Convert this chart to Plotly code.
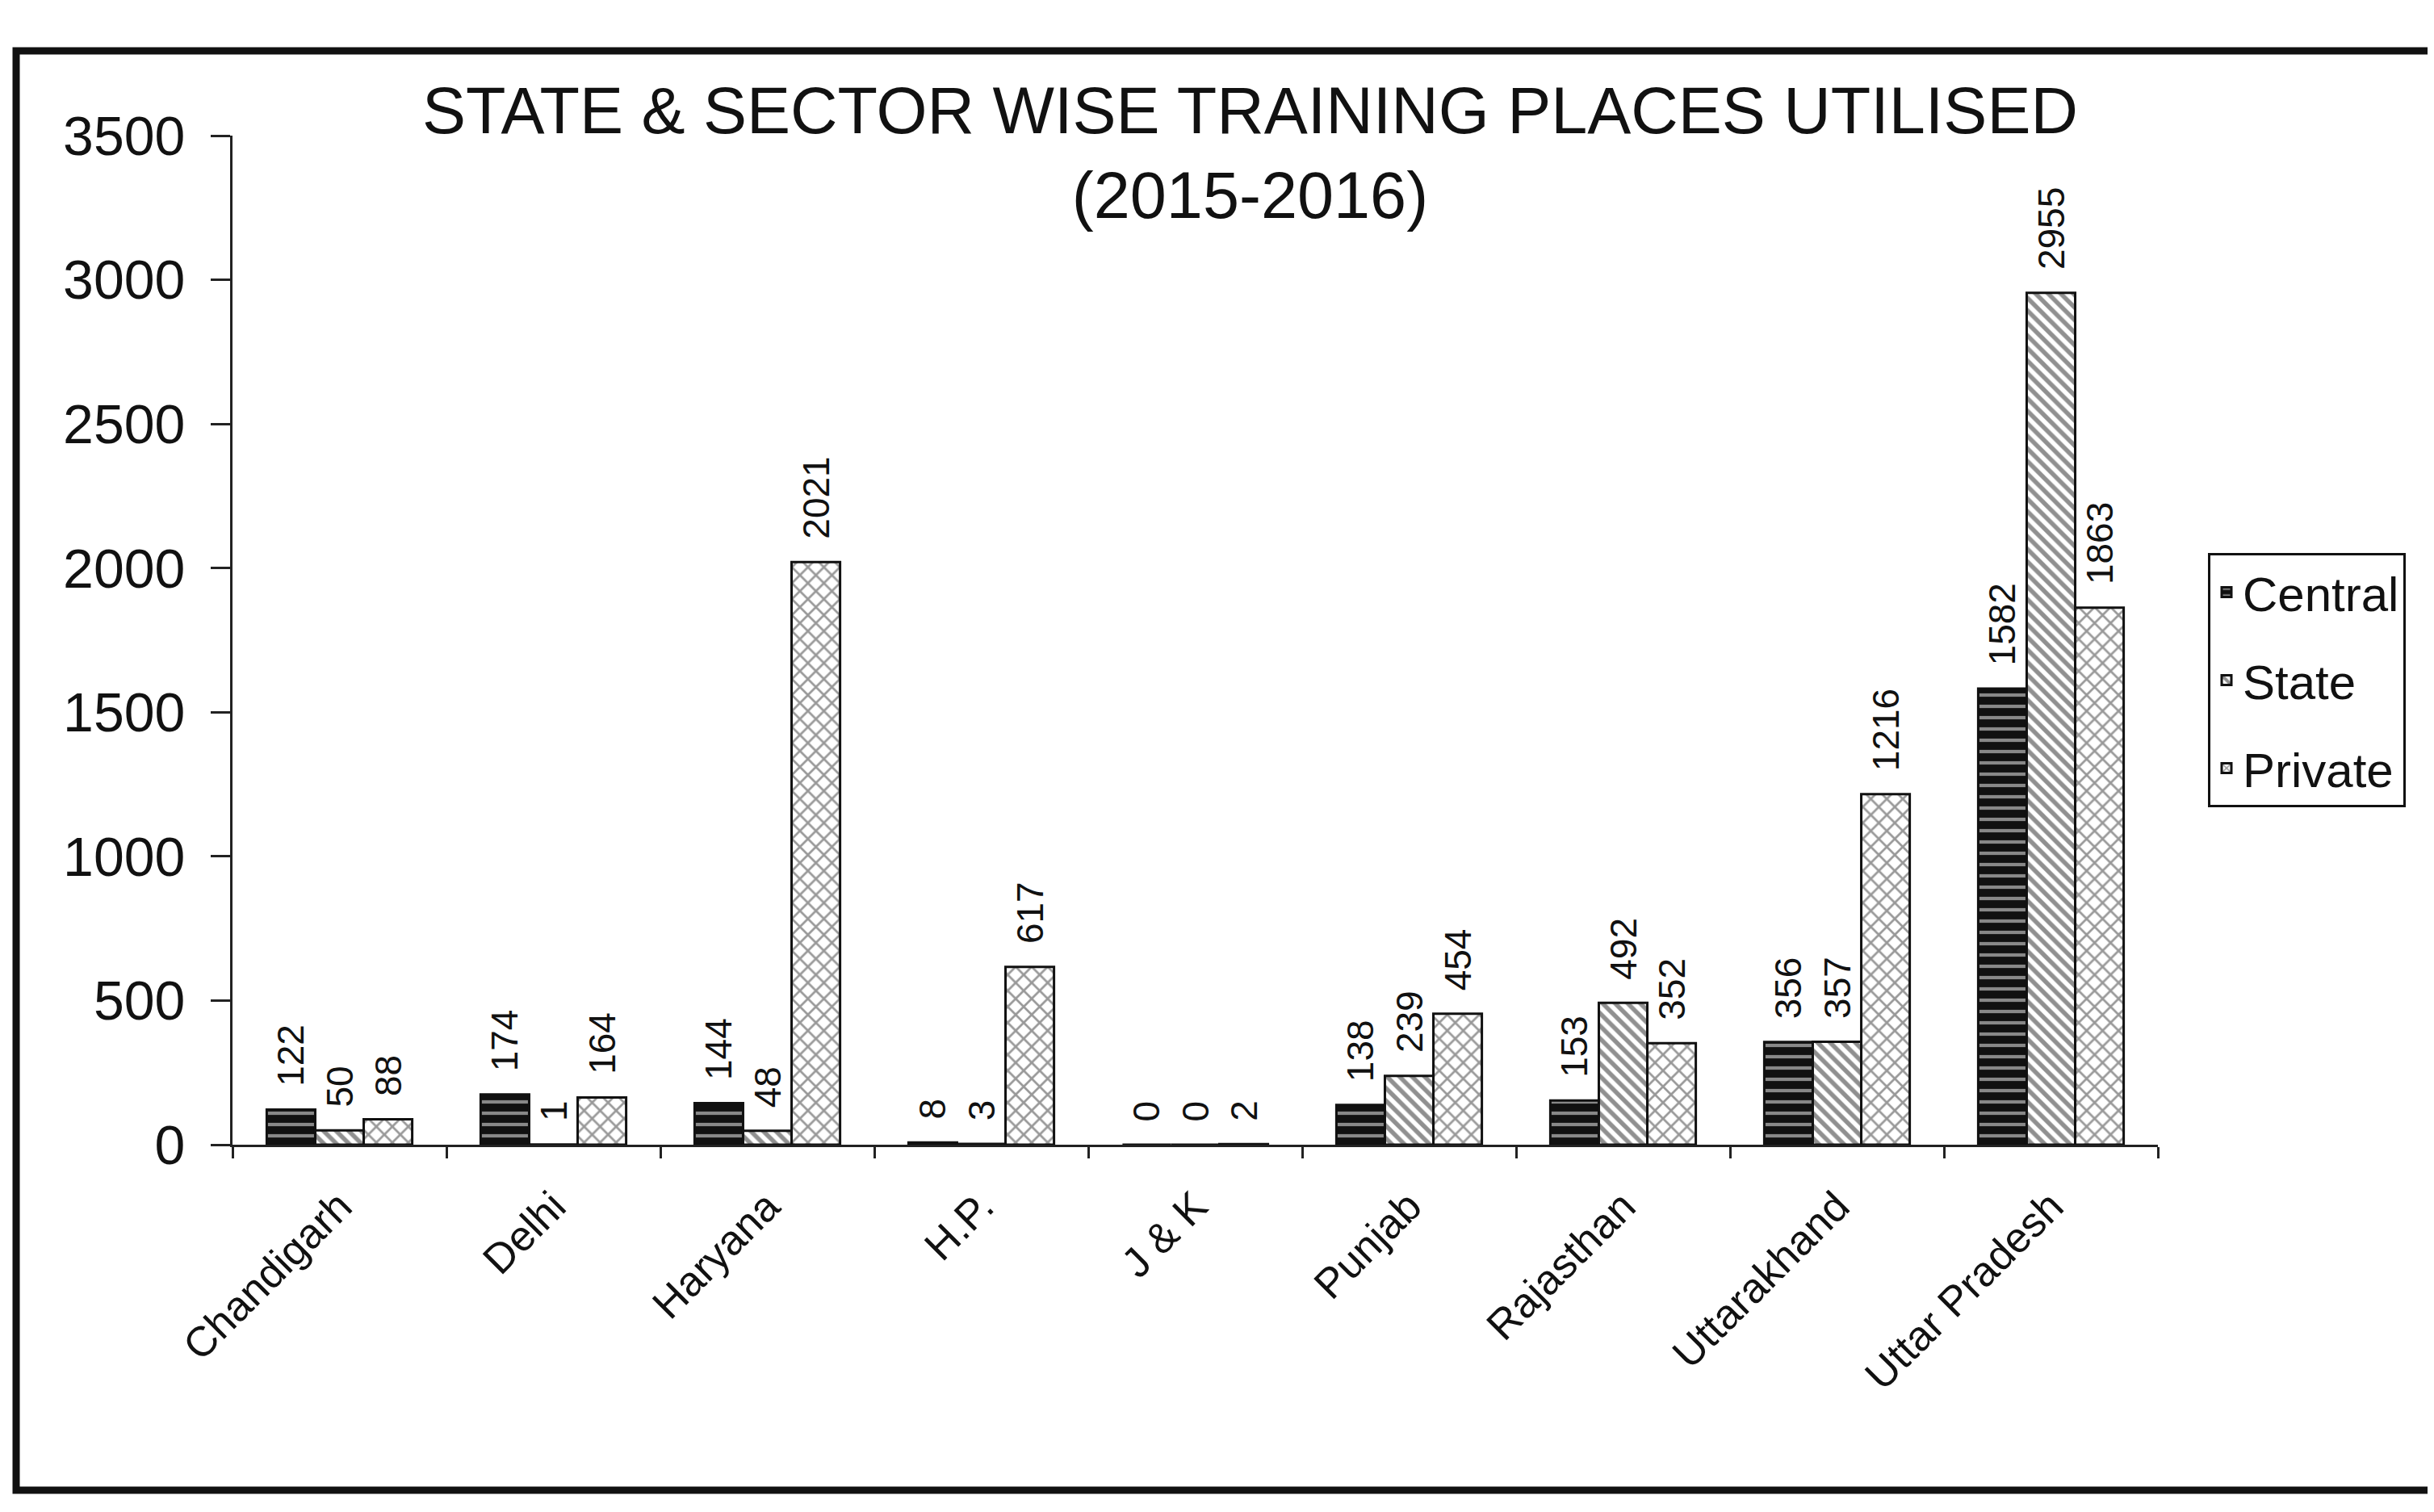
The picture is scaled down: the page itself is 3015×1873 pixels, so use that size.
import plotly.graph_objects as go

states = ["Chandigarh", "Delhi", "Haryana", "H.P.", "J & K", "Punjab", "Rajasthan", "Uttarakhand", "Uttar Pradesh"]
central = [122, 174, 144, 8, 0, 138, 153, 356, 1582]
state = [50, 1, 48, 3, 0, 239, 492, 357, 2955]
private = [88, 164, 2021, 617, 2, 454, 352, 1216, 1863]
y_ticks = [0, 500, 1000, 1500, 2000, 2500, 3000, 3500]

FONT = "Liberation Sans, Arial, sans-serif"

series = [
    ("Central", central, dict(shape="-", bgcolor="#111111", fgcolor="#ffffff", size=14, solidity=0.3)),
    ("State", state, dict(shape="\\", bgcolor="#ffffff", fgcolor="#222222", size=11, solidity=0.5)),
    ("Private", private, dict(shape="x", bgcolor="#ffffff", fgcolor="#333333", size=14, solidity=0.35)),
]

L, R, T, B = 280, 350, 160, 463
PW = 3015 - L - R
PH = 1873 - T - B

fig = go.Figure()
for i, (name, vals, pat) in enumerate(series):
    fig.add_trace(go.Bar(
        name=name, x=states, y=vals,
        text=["\u00a0\u00a0" + str(v) for v in vals], textposition="outside", textangle=-90,
        textfont=dict(family=FONT, size=46, color="#111111"),
        constraintext="none",
        cliponaxis=False,
        legendgroup=name,
        marker=dict(color="#ffffff", line=dict(color="#111111", width=3), pattern=pat),
    ))

fig.update_layout(
    width=3015, height=1873,
    paper_bgcolor="white", plot_bgcolor="white",
    margin=dict(l=L, r=R, t=T, b=B),
    barmode="group", bargap=0.32, bargroupgap=0,
    font=dict(family=FONT, color="#111111"),
    showlegend=True,
    legend=dict(x=(2727 - L) / PW, y=(T + PH - 677) / PH, xanchor="left", yanchor="top",
                bordercolor="#111111", borderwidth=3, bgcolor="white",
                font=dict(family=FONT, size=60, color="#111111"),
                tracegroupgap=28, traceorder="grouped"),
    xaxis=dict(showline=True, linecolor="#222222", linewidth=3,
               ticks="outside", tickson="boundaries", ticklen=14, tickcolor="#222222", tickwidth=3,
               tickangle=-45, tickfont=dict(family=FONT, size=52, color="#111111"),
               ticklabelstandoff=22, showgrid=False),
    yaxis=dict(range=[0, 3500], tickvals=y_ticks, showline=True, linecolor="#222222", linewidth=3,
               ticks="outside", ticklen=24, tickcolor="#222222", tickwidth=3,
               tickfont=dict(family=FONT, size=68, color="#111111"),
               ticklabelstandoff=18, showgrid=False, zeroline=False),
    annotations=[dict(text="STATE & SECTOR WISE TRAINING PLACES UTILISED<br>(2015-2016)",
                      xref="paper", yref="paper", x=(1540 - L) / PW, y=(T + PH - 182) / PH,
                      xanchor="center", yanchor="middle",
                      showarrow=False, font=dict(family=FONT, size=81, color="#111111"))],
    shapes=[dict(type="rect", xref="paper", yref="paper",
                 x0=(12 - L) / PW, x1=(3045 - L) / PW,
                 y0=(T + PH - 1838) / PH, y1=(T + PH - 55) / PH,
                 line=dict(color="#111111", width=9), layer="below")],
)

fig.write_html("out.html")
